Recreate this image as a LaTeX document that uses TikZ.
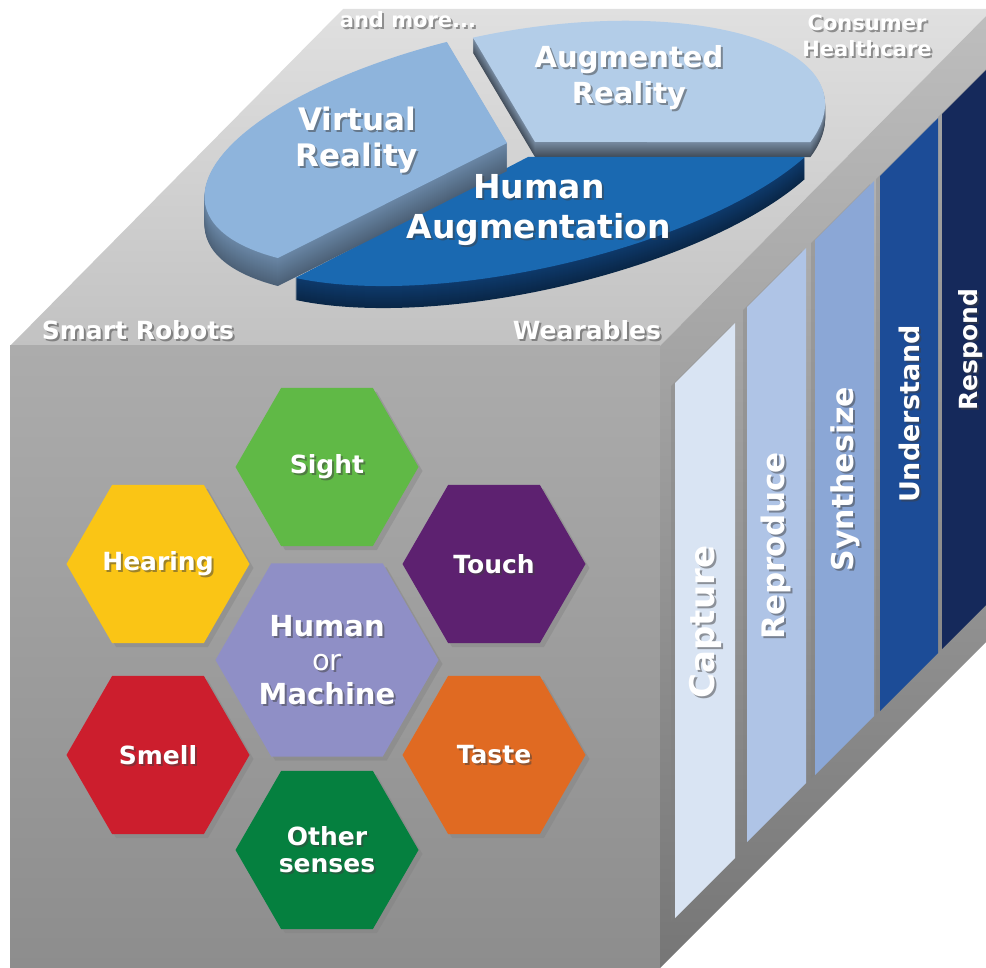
\documentclass[tikz,border=0pt]{standalone}
\usepackage{fontspec}
\setmainfont{DejaVu Sans}
\usetikzlibrary{shapes.geometric,shadows}

\definecolor{topfaceback}{HTML}{E0E0E0}
\definecolor{topfacefront}{HTML}{C2C2C2}
\definecolor{frontfacetop}{HTML}{ACACAC}
\definecolor{frontfacebot}{HTML}{8D8D8D}
\definecolor{rightfacetop}{HTML}{BEBEBE}
\definecolor{rightfacebot}{HTML}{767676}
\definecolor{vrtop}{HTML}{8EB4DC}
\definecolor{vrwall}{HTML}{6A87A6}
\definecolor{artop}{HTML}{B3CDE8}
\definecolor{arwall}{HTML}{7A8EA5}
\definecolor{hatop}{HTML}{1A69B1}
\definecolor{hawall}{HTML}{0E3A6C}
\definecolor{capturebar}{HTML}{D9E4F3}
\definecolor{reproducebar}{HTML}{AFC4E6}
\definecolor{synthesizebar}{HTML}{8BA7D6}
\definecolor{understandbar}{HTML}{1C4C97}
\definecolor{respondbar}{HTML}{15295B}
\definecolor{sightgreen}{HTML}{60B946}
\definecolor{hearingyellow}{HTML}{FAC515}
\definecolor{touchpurple}{HTML}{5D2170}
\definecolor{centrelilac}{HTML}{8F8FC6}
\definecolor{smellred}{HTML}{CC1E2D}
\definecolor{tasteorange}{HTML}{E06A22}
\definecolor{othergreen}{HTML}{05803F}

% white label with a soft dark shadow
\newcommand\shadowlabel[4][]{%
  \node[lbl,#1,text=black!75,opacity=.5] (#2-sh) at ([xshift=2pt,yshift=-2pt]#3) {#4};
  \node[lbl,#1] (#2) at (#3) {#4};}
% one slice of the tilted pie: style, centre, start, end, x radius, y radius, tilt
\newcommand\pieslice[7]{%
  \fill[#1,shift={#2},rotate=#7] (0,0) -- (#3:#5 and #6)
    arc[start angle=#3,end angle=#4,x radius=#5,y radius=#6] -- cycle;}

\begin{document}
\begin{tikzpicture}[x=1pt,y=-1pt,
    hex/.style={regular polygon,regular polygon sides=6,minimum size=183pt,inner sep=0pt,
      drop shadow={shadow xshift=4pt,shadow yshift=-4pt,opacity=.4}},
    bar/.style={drop shadow={shadow xshift=-4pt,shadow yshift=-3pt,opacity=.35}},
    lbl/.style={text=white,align=center,inner sep=0pt},
    fs/.style 2 args={font=\bfseries\fontsize{#1}{#2}\selectfont}]
    \useasboundingbox (0,0) rectangle (986,968);

    % faces of the cube
    \shade[top color=topfaceback,bottom color=topfacefront] (10,346) -- (660,346) -- (993,9) -- (343,9) -- cycle;
    \shade[top color=frontfacetop,bottom color=frontfacebot] (10,346) rectangle (660,968);
    \shade[shading angle=45,top color=rightfacetop,bottom color=rightfacebot] (660,346) -- (993,9) -- (993,635) -- (660,968) -- cycle;

    % pie on the top face
    \foreach \d [evaluate=\d as \p using int(100-3*\d)] in {15,...,1}
      {\pieslice{arwall!\p!black}{(535,142+\d)}{-98.9}{21.7}{293}{114}{8.8}}
    \pieslice{artop}{(535,142)}{-98.9}{21.7}{293}{114}{8.8}
    \foreach \d [evaluate=\d as \p using int(100-1.5*\d)] in {22,...,1}
      {\pieslice{hawall!\p!black}{(528,157+\d)}{32}{142.5}{319}{112}{12.4}}
    \pieslice{hatop}{(528,157)}{32}{142.5}{319}{112}{12.4}
    \foreach \d [evaluate=\d as \p using int(100-\d)] in {28,...,1}
      {\pieslice{vrwall!\p!black}{(507,143+\d)}{143.5}{262.8}{308}{112}{11.6}}
    \pieslice{vrtop}{(507,143)}{143.5}{262.8}{308}{112}{11.6}

    \shadowlabel[fs={31}{36}]{vr}{357,140}{Virtual\\Reality}
    \shadowlabel[fs={29}{36}]{ar}{629,78}{Augmented\\Reality}
    \shadowlabel[fs={33}{40}]{ha}{539,210}{Human\\Augmentation}
    \shadowlabel[fs={21}{26}]{more}{408,20}{and more...}
    \shadowlabel[fs={21}{26}]{health}{867,36}{Consumer\\Healthcare}
    \shadowlabel[fs={25}{30}]{robots}{138,330}{Smart Robots}
    \shadowlabel[fs={25}{30}]{wear}{587,330}{Wearables}

    % senses on the front face
    \node[hex,fill=sightgreen] (sight) at (327,467) {};
    \node[hex,fill=hearingyellow] (hearing) at (158,564) {};
    \node[hex,fill=touchpurple] (touch) at (494,564) {};
    \node[hex,fill=smellred] (smell) at (158,755) {};
    \node[hex,fill=tasteorange] (taste) at (494,755) {};
    \node[hex,fill=othergreen] (other) at (327,850) {};
    \node[hex,fill=centrelilac,minimum size=223pt] (centre) at (327,660) {};

    \shadowlabel[fs={25}{27}]{sighttxt}{sight.center}{Sight}
    \shadowlabel[fs={25}{27}]{hearingtxt}{hearing.center}{Hearing}
    \shadowlabel[fs={25}{27}]{touchtxt}{touch.center}{Touch}
    \shadowlabel[fs={25}{27}]{smelltxt}{smell.center}{Smell}
    \shadowlabel[fs={25}{27}]{tastetxt}{taste.center}{Taste}
    \shadowlabel[fs={25}{27}]{othertxt}{other.center}{Other\\senses}
    \shadowlabel[fs={29}{34}]{centretxt}{centre.center}{Human\\{\mdseries or}\\Machine}

    % stages on the right face
    \fill[capturebar,bar] (675,383) -- (735,323) -- (735,858) -- (675,918) -- cycle;
    \fill[reproducebar,bar] (747,307) -- (806,248) -- (806,783) -- (747,842) -- cycle;
    \fill[synthesizebar,bar] (815,240) -- (874,181) -- (874,716) -- (815,775) -- cycle;
    \fill[understandbar,bar] (880,176) -- (938,118) -- (938,653) -- (880,711) -- cycle;
    \fill[respondbar,bar] (942,114) -- (1000,56) -- (1000,591) -- (942,649) -- cycle;

    \shadowlabel[fs={34}{40},rotate=90]{capture}{705,622}{Capture}
    \shadowlabel[fs={31}{36},rotate=90]{reproduce}{776,546}{Reproduce}
    \shadowlabel[fs={30}{36},rotate=90]{synthesize}{845,479}{Synthesize}
    \shadowlabel[fs={27}{32},rotate=90]{understand}{909,414}{Understand}
    \shadowlabel[fs={25}{30},rotate=90]{respond}{971,350}{Respond}
\end{tikzpicture}
\end{document}
